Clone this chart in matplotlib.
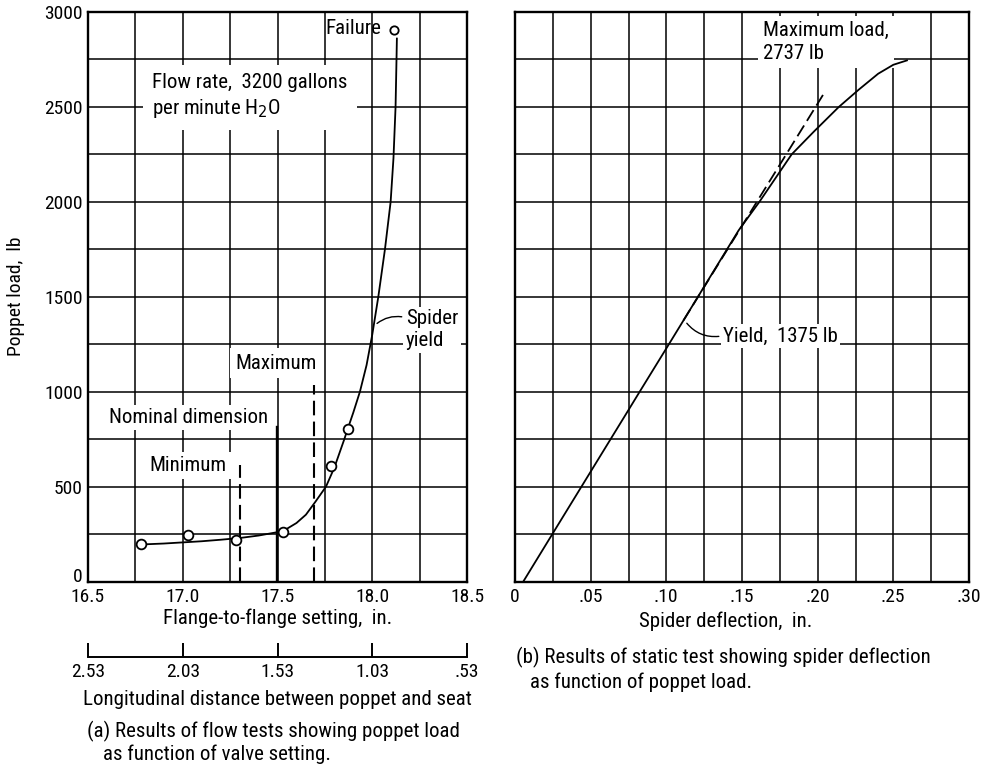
import numpy as np
import matplotlib
matplotlib.use("Agg")
import matplotlib.pyplot as plt
from matplotlib import font_manager
from matplotlib.ticker import MultipleLocator
from matplotlib.transforms import ScaledTranslation

# fuente estrecha si existe; si no, DejaVu un poco más chica
_names = {f.name for f in font_manager.fontManager.ttflist}
FS, TS = 11.5, 11
for cand in ("Liberation Sans Narrow", "Roboto Condensed", "Open Sans Condensed",
             "DejaVu Sans Condensed"):
    if cand in _names:
        plt.rcParams["font.family"] = [cand, "DejaVu Sans"]
        FS, TS = 15, 14
        break
else:
    plt.rcParams["font.family"] = ["DejaVu Sans"]
plt.rcParams["font.size"] = FS
plt.rcParams["xtick.labelsize"] = TS
plt.rcParams["ytick.labelsize"] = TS

# ── (a) flow tests: poppet load vs flange-to-flange setting ──
flange_pts = [16.78, 17.03, 17.28, 17.53, 17.78, 17.87]
load_pts = [200, 247, 220, 260, 606, 801]
flange_fail = [18.115]
load_fail = [2905]

flange_curve = [16.78, 16.9, 17.0, 17.1, 17.2, 17.3, 17.4, 17.5, 17.55, 17.6,
                17.65, 17.7, 17.756, 17.8, 17.851, 17.87, 17.9, 17.935, 17.97,
                18.0, 18.032, 18.067, 18.097, 18.112, 18.123, 18.128, 18.13]
load_curve = [195, 200, 206, 212, 220, 229, 242, 260, 278, 308,
              352, 420, 500, 600, 745, 802, 890, 1000, 1140,
              1300, 1500, 1750, 2000, 2230, 2500, 2750, 2860]

# marcas de ajuste (min / nominal / max)
min_x, min_top = 17.30, 612
nom_x, nom_top = 17.495, 815
max_x, max_top = 17.695, 1035

dist_ticks = [2.53, 2.03, 1.53, 1.03, 0.53]
dist_labels = ["2.53", "2.03", "1.53", "1.03", ".53"]
flange_labels = ["16.5", "17.0", "17.5", "18.0", "18.5"]

# ── (b) static test: poppet load vs spider deflection ──
defl_curve = [0.0055, 0.0247, 0.0501, 0.0755, 0.0824, 0.1017, 0.1113, 0.1209,
              0.1401, 0.1478, 0.1615, 0.1828, 0.1975, 0.214, 0.227, 0.240,
              0.250, 0.259]
load_b = [0, 250, 580, 910, 1000, 1250, 1375, 1500,
          1750, 1850, 2000, 2250, 2370, 2500, 2590, 2675,
          2722, 2745]
defl_dash = [0.1113, 0.2035]
load_dash = [1375, 2563]
defl_ticks = [0, 0.05, 0.10, 0.15, 0.20, 0.25, 0.30]
defl_labels = ["0", ".05", ".10", ".15", ".20", ".25", ".30"]

W, H = 983, 772
fig = plt.figure(figsize=(W / 100, H / 100), dpi=100)


def wbox(pad):
    return dict(boxstyle=f"square,pad={pad}", fc="white", ec="none")


def style_axes(ax):
    ax.set_axisbelow(True)
    ax.grid(True, which="both", color="black", linewidth=1.1)
    for s in ax.spines.values():
        s.set_linewidth(1.7)
    ax.tick_params(which="both", length=0, pad=5)


# ───────── panel (a) ─────────
axa = fig.add_axes([88 / W, 1 - 581.5 / H, 379 / W, 569.5 / H])
axa.set_xlim(16.5, 18.5)
axa.set_ylim(0, 3000)
axa.set_xticks([16.5, 17.0, 17.5, 18.0, 18.5])
axa.set_xticklabels(flange_labels)
axa.xaxis.set_minor_locator(MultipleLocator(0.25))
axa.set_yticks(range(0, 3001, 500))
axa.yaxis.set_minor_locator(MultipleLocator(250))
style_axes(axa)
axa.tick_params(axis="y", pad=4)
# el "0" queda un poco por encima del eje, como en el original
lbl0 = axa.get_yticklabels()[0]
lbl0.set_transform(lbl0.get_transform() + ScaledTranslation(0, 5 / 72, fig.dpi_scale_trans))
axa.set_xlabel("Flange-to-flange setting,  in.")
axa.xaxis.set_label_coords(0.5, -0.048)
axa.set_ylabel("Poppet load,  lb", fontsize=TS)
axa.yaxis.set_label_coords(-0.165, 0.5)

axa.plot(flange_curve, load_curve, color="black", linewidth=1.3, zorder=4)
axa.plot(flange_pts, load_pts, "o", ms=7, mfc="white", mec="black", mew=1.3, zorder=5)
axa.plot(flange_fail, load_fail, "o", ms=6, mfc="white", mec="black", mew=1.3, zorder=5)

axa.plot([min_x, min_x], [0, min_top], color="black", linewidth=1.5,
         dashes=(7, 3), zorder=3)
axa.plot([nom_x, nom_x], [0, nom_top], color="black", linewidth=1.7, zorder=3)
axa.plot([max_x, max_x], [0, max_top], color="black", linewidth=1.5,
         dashes=(7, 3), zorder=3)

axa.text(18.045, 2915, "Failure", ha="right", va="center")
axa.text(16.84, 2555, "Flow rate,  3200 gallons\nper minute H$_2$O",
         ha="left", va="center", linespacing=1.35, bbox=wbox(0.45), zorder=2)
axa.text(18.178, 1325, "Spider\nyield", ha="left", va="center",
         linespacing=1.2, bbox=wbox(0.12), zorder=2)
axa.annotate("", xy=(18.014, 1350), xytext=(18.17, 1392),
             arrowprops=dict(arrowstyle="-", lw=1.0,
                             connectionstyle="arc3,rad=0.25"))
axa.text(17.49, 1150, "Maximum", ha="center", va="center",
         bbox=wbox(0.25), zorder=2)
axa.text(17.03, 864, "Nominal dimension", ha="center", va="center",
         bbox=wbox(0.15), zorder=2)
axa.text(17.03, 611, "Minimum", ha="center", va="center",
         bbox=wbox(0.2), zorder=2)

# escala secundaria: distancia poppet-asiento
axd = fig.add_axes([88 / W, 1 - 657 / H, 379 / W, 0.001])
axd.set_xlim(2.53, 0.53)
axd.set_ylim(0, 1)
axd.set_yticks([])
axd.set_xticks(dist_ticks)
axd.set_xticklabels(dist_labels)
for side in ("top", "left", "right"):
    axd.spines[side].set_visible(False)
axd.spines["bottom"].set_linewidth(1.4)
axd.patch.set_alpha(0)
axd.tick_params(axis="x", direction="in", length=10, width=1.4, pad=4)
axd.set_xlabel("Longitudinal distance between poppet and seat", labelpad=7)

# ───────── panel (b) ─────────
axb = fig.add_axes([515 / W, 1 - 581.5 / H, 454 / W, 569.5 / H])
axb.set_xlim(0, 0.30)
axb.set_ylim(0, 3000)
axb.set_xticks(defl_ticks)
axb.set_xticklabels(defl_labels)
axb.xaxis.set_minor_locator(MultipleLocator(0.025))
axb.set_yticks(range(0, 3001, 250))
axb.set_yticklabels([])
style_axes(axb)
axb.set_xlabel("Spider deflection,  in.")
axb.xaxis.set_label_coords(0.463, -0.053)

axb.plot(defl_curve, load_b, color="black", linewidth=1.3, zorder=4)
axb.plot(defl_dash, load_dash, color="black", linewidth=1.3,
         dashes=(7, 3), zorder=4)

axb.text(0.164, 2842, "Maximum load,\n2737 lb", ha="left", va="center",
         linespacing=1.3, bbox=wbox(0.25), zorder=2)
axb.text(0.1375, 1293, "Yield,  1375 lb", ha="left", va="center",
         bbox=wbox(0.12), zorder=2)
axb.annotate("", xy=(0.1124, 1372), xytext=(0.1365, 1293),
             arrowprops=dict(arrowstyle="-", lw=1.0,
                             connectionstyle="arc3,rad=-0.3"))

# ───────── pies de figura ─────────
fig.text(87 / W, 1 - 731 / H, "(a) Results of flow tests showing poppet load",
         ha="left", va="center")
fig.text(103 / W, 1 - 754 / H, "as function of valve setting.",
         ha="left", va="center")
fig.text(516 / W, 1 - 657 / H, "(b) Results of static test showing spider deflection",
         ha="left", va="center")
fig.text(530 / W, 1 - 682 / H, "as function of poppet load.",
         ha="left", va="center")

fig.savefig("out.png", dpi=100)
